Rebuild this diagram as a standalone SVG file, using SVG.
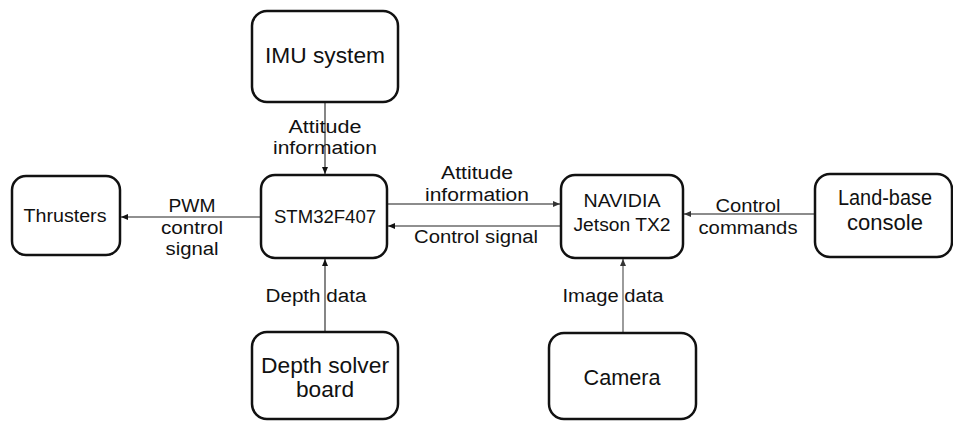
<svg xmlns="http://www.w3.org/2000/svg" width="953" height="421" viewBox="0 0 953 421">
<style>
.box{fill:#fff;stroke:#111;stroke-width:2.5}
.big{font-family:"Liberation Sans","Open Sans",sans-serif;font-size:21.5px;fill:#111;text-anchor:middle}
.sm{font-family:"Liberation Sans","Open Sans",sans-serif;font-size:18px;fill:#111;text-anchor:middle}
.ln{fill:none;stroke:#222;stroke-width:1.1;marker-end:url(#ah)}
.lg{fill:none;stroke:#666;stroke-width:1.3;marker-end:url(#ahg)}
</style>
<defs>
<marker id="ah" markerWidth="8" markerHeight="8" refX="7" refY="4" orient="auto" markerUnits="userSpaceOnUse"><path d="M0,1 L7,4 L0,7 Z" fill="#111"/></marker>
<marker id="ahg" markerWidth="8" markerHeight="8" refX="7" refY="4" orient="auto" markerUnits="userSpaceOnUse"><path d="M0,1 L7,4 L0,7 Z" fill="#333"/></marker>
</defs>
<rect width="953" height="421" fill="#fff"/>
<g id="connectors">
<line class="ln" x1="325" y1="102" x2="325" y2="174"/>
<line class="ln" x1="261" y1="217" x2="121" y2="217"/>
<line class="lg" x1="387" y1="204" x2="560" y2="204"/>
<line class="ln" x1="561" y1="226" x2="388" y2="226"/>
<line class="lg" x1="815" y1="214" x2="684" y2="214"/>
<line class="ln" x1="325" y1="332" x2="325" y2="259"/>
<line class="lg" x1="623" y1="333" x2="623" y2="259"/>
</g>
<g id="labels">
<text class="sm" x="325" y="133" textLength="73" lengthAdjust="spacingAndGlyphs">Attitude</text>
<text class="sm" x="325" y="154" textLength="104" lengthAdjust="spacingAndGlyphs">information</text>
<text class="sm" x="192" y="212" textLength="47" lengthAdjust="spacingAndGlyphs">PWM</text>
<text class="sm" x="192" y="234" textLength="62" lengthAdjust="spacingAndGlyphs">control</text>
<text class="sm" x="192" y="255" textLength="53" lengthAdjust="spacingAndGlyphs">signal</text>
<text class="sm" x="477" y="179" textLength="72" lengthAdjust="spacingAndGlyphs">Attitude</text>
<text class="sm" x="477" y="201" textLength="104" lengthAdjust="spacingAndGlyphs">information</text>
<text class="sm" x="476" y="243" textLength="124" lengthAdjust="spacingAndGlyphs">Control signal</text>
<text class="sm" x="748" y="212" textLength="65" lengthAdjust="spacingAndGlyphs">Control</text>
<text class="sm" x="748" y="234" textLength="99" lengthAdjust="spacingAndGlyphs">commands</text>
<text class="sm" x="316" y="302" textLength="101" lengthAdjust="spacingAndGlyphs">Depth data</text>
<text class="sm" x="613" y="302" textLength="101" lengthAdjust="spacingAndGlyphs">Image data</text>
</g>
<g id="imu">
<rect class="box" x="252" y="11" width="146" height="91" rx="15"/>
<text class="big" x="325" y="63" textLength="120" lengthAdjust="spacingAndGlyphs">IMU system</text>
</g>
<g id="stm32">
<rect class="box" x="261" y="175" width="126" height="83" rx="14"/>
<text class="sm" x="325" y="223" textLength="102" lengthAdjust="spacingAndGlyphs">STM32F407</text>
</g>
<g id="thrusters">
<rect class="box" x="12" y="176" width="108" height="79" rx="14"/>
<text class="sm" x="65" y="222" textLength="83" lengthAdjust="spacingAndGlyphs">Thrusters</text>
</g>
<g id="jetson">
<rect class="box" x="561" y="175" width="122" height="83" rx="14"/>
<text class="sm" x="622" y="207" textLength="77" lengthAdjust="spacingAndGlyphs">NAVIDIA</text>
<text class="sm" x="622" y="231" textLength="97" lengthAdjust="spacingAndGlyphs">Jetson TX2</text>
</g>
<g id="landbase">
<rect class="box" x="815" y="174" width="137" height="83" rx="15"/>
<text class="big" x="885" y="205" textLength="94" lengthAdjust="spacingAndGlyphs">Land-base</text>
<text class="big" x="885" y="230" textLength="76" lengthAdjust="spacingAndGlyphs">console</text>
</g>
<g id="depth">
<rect class="box" x="252" y="332" width="146" height="87" rx="15"/>
<text class="big" x="325" y="373" textLength="128" lengthAdjust="spacingAndGlyphs">Depth solver</text>
<text class="big" x="325" y="397" textLength="58" lengthAdjust="spacingAndGlyphs">board</text>
</g>
<g id="camera">
<rect class="box" x="549" y="333" width="147" height="86" rx="15"/>
<text class="big" x="622" y="385" textLength="77" lengthAdjust="spacingAndGlyphs">Camera</text>
</g>
</svg>
